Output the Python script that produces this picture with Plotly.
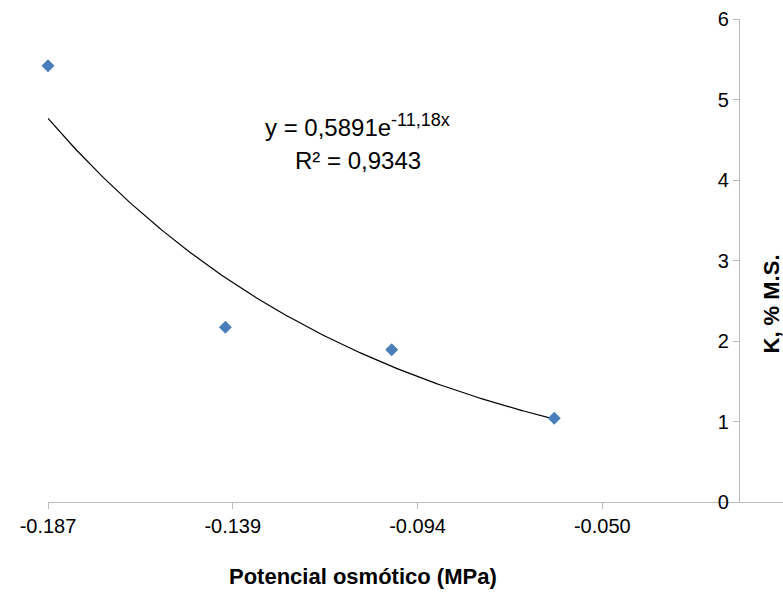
import numpy as np
import plotly.graph_objects as go

# Data
x_data = [-0.187, -0.139, -0.094, -0.050]
k_data = [5.42, 2.17, 1.89, 1.04]

# Trendline coefficients (as printed on chart)
coef_a = 0.5891
coef_b = -11.18

# Axis tick labels (the original axis uses evenly spaced ticks with these labels)
x_tick_start = -0.187
x_tick_step = 0.05
x_tick_labels = ["-0.187", "-0.139", "-0.094", "-0.050"]
y_tick_vals = [0, 1, 2, 3, 4, 5, 6]
y_tick_labels = ["0", "1", "2", "3", "4", "5", "6"]

eq_main = "y = 0,5891e"
eq_sup = "-11,18x"
r2_text = "R² = 0,9343"
x_title = "Potencial osmótico (MPa)"
y_title = "K, % M.S."

FONT = "Arial, Liberation Sans, sans-serif"

x_min = x_data[0]
x_max = 0.0119
x_tick_vals = [x_tick_start + i * x_tick_step for i in range(len(x_tick_labels))]

xt = np.linspace(min(x_data), max(x_data), 200)
yt = coef_a * np.exp(coef_b * xt)

fig = go.Figure()
fig.add_trace(go.Scatter(x=xt, y=yt, mode="lines",
                         line=dict(color="black", width=1.2),
                         showlegend=False, hoverinfo="skip"))
fig.add_trace(go.Scatter(x=x_data, y=k_data, mode="markers", cliponaxis=False,
                         marker=dict(symbol="diamond", size=10, color="#4A7EBB",
                                     line=dict(width=0)),
                         showlegend=False))

y_pos = (0 - x_min) / (x_max - x_min)

fig.update_layout(
    width=783, height=598,
    margin=dict(l=48, r=0, t=19, b=96, autoexpand=False),
    paper_bgcolor="white", plot_bgcolor="white",
    font=dict(family=FONT, size=19, color="black"),
    xaxis=dict(range=[x_min, x_max], domain=[0, 1], automargin=False,
               showline=True, linecolor="#BBBBBB", linewidth=1.3,
               showgrid=False, zeroline=False,
               ticks="outside", ticklen=6, tickcolor="#BBBBBB", tickwidth=1,
               tickvals=x_tick_vals, ticktext=x_tick_labels,
               tickfont=dict(family=FONT, size=20, color="black")),
    yaxis=dict(range=[0, 6], anchor="free", position=y_pos, side="left",
               automargin=False,
               showline=True, linecolor="#BBBBBB", linewidth=1.3,
               showgrid=False, zeroline=False,
               ticks="outside", ticklen=6, tickcolor="#BBBBBB", tickwidth=1,
               tickvals=y_tick_vals, ticktext=y_tick_labels,
               tickfont=dict(family=FONT, size=20, color="black")),
    annotations=[
        dict(text=eq_main + "<sup><span style='font-size:18px'>" + eq_sup + "</span></sup>",
             x=-0.1032, y=4.68, xref="x", yref="y",
             showarrow=False, font=dict(family=FONT, size=24, color="black")),
        dict(text=r2_text, x=-0.1032, y=4.24, xref="x", yref="y",
             showarrow=False, font=dict(family=FONT, size=24, color="black")),
        dict(text="<b>" + x_title + "</b>", x=(363 - 48) / 735, y=-0.155,
             xref="paper", yref="paper", showarrow=False,
             xanchor="center", yanchor="middle",
             font=dict(family=FONT, size=22, color="black")),
        dict(text="<b>" + y_title + "</b>", x=1, y=(502 - 304) / 483,
             xref="paper", yref="paper", showarrow=False, textangle=-90,
             xanchor="right", yanchor="middle", xshift=2,
             font=dict(family=FONT, size=22, color="black")),
    ],
)

fig.write_html("out.html", config={"displayModeBar": False},
               post_script="document.body.style.margin='0';document.body.style.overflow='hidden';")
